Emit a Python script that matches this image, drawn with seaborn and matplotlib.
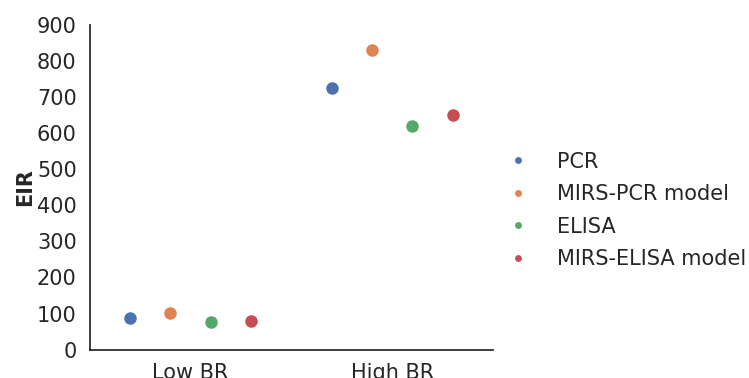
import matplotlib
matplotlib.use("Agg")
import matplotlib.pyplot as plt
import seaborn as sns
import pandas as pd

categories = ["Low BR", "High BR"]
methods = ["PCR", "MIRS-PCR model", "ELISA", "MIRS-ELISA model"]
low_br = [88, 101, 76, 79]
high_br = [725, 830, 620, 649]

rows = []
for m, v in zip(methods, low_br):
    rows.append({"BR": "Low BR", "Method": m, "EIR": v})
for m, v in zip(methods, high_br):
    rows.append({"BR": "High BR", "Method": m, "EIR": v})
df = pd.DataFrame(rows)

sns.set_theme(style="white", palette="deep")
plt.rcParams['font.family'] = ['DejaVu Sans']

fig, ax = plt.subplots(figsize=(7.49, 3.78), dpi=100)
sns.stripplot(data=df, x="BR", y="EIR", hue="Method", order=categories,
              hue_order=methods, dodge=True, jitter=False, size=9, ax=ax)
sns.despine(ax=ax)
ax.set_xlabel("")
ax.set_ylabel("EIR", fontsize=15, fontweight="bold", labelpad=1)
ax.set_ylim(0, 900)
ax.set_yticks(range(0, 901, 100))
ax.tick_params(axis="both", labelsize=15)
leg = ax.legend(loc="center left", bbox_to_anchor=(1.0, 0.428), frameon=False,
                fontsize=15, handlelength=0.6, handletextpad=1.56,
                markerscale=0.55, labelspacing=0.6)
fig.subplots_adjust(left=0.12, right=0.658, top=0.935, bottom=0.075)
fig.savefig("out.png", dpi=100)
